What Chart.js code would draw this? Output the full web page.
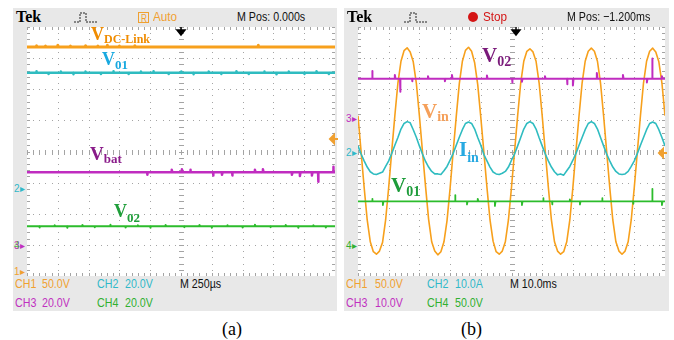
<!DOCTYPE html>
<html lang="en">
<head>
<meta charset="UTF-8">
<title>Tek captures</title>
<script src="https://cdn.jsdelivr.net/npm/chart.js"></script>
<style>
  body { margin: 0; background: #fff; font-family: "Liberation Sans", Arial, sans-serif; }
  #page { position: relative; width: 674px; height: 340px; overflow: hidden; }
  .frame { position: absolute; top: 8px; height: 303px; background: #e8e8e8; }
  canvas { position: absolute; top: 27px; background: #fff; }
  .t { position: absolute; white-space: nowrap; font-size: 13px; line-height: 13px; transform: scaleX(0.82); transform-origin: 0 0; }
  .tek { position: absolute; font: bold 16px/16px "Liberation Serif", serif; }
  .lab { position: absolute; white-space: nowrap; font-family: "Liberation Serif", serif; font-weight: bold; line-height: 1; }
  .lab sub { font-size: 13px; vertical-align: baseline; position: relative; top: 4px; }
  .mk { position: absolute; font: 10px/10px "Liberation Sans", Arial, sans-serif; }
  .cap { position: absolute; font: 18px/18px "Liberation Serif", serif; }
  svg { position: absolute; overflow: visible; }
</style>
</head>
<body>
<div id="page">
  <div class="frame" style="left:13px;width:324px"></div>
  <div class="frame" style="left:344px;width:325px"></div>
  <canvas id="scopeA" width="308" height="249" style="left:27px"></canvas>
  <canvas id="scopeB" width="307" height="249" style="left:358px"></canvas>

  <!-- header (a) -->
  <div class="tek" style="left:16px;top:9px">Tek</div>
  <svg style="left:0;top:0" width="1" height="1"><polyline points="74,22 80,22 80,13 86,13 86,22 97,22" fill="none" stroke="#222" stroke-width="1" stroke-dasharray="2 1"/></svg>
  <svg style="left:0;top:0" width="1" height="1"><rect x="138.5" y="12.5" width="10" height="10" fill="none" stroke="#f0a030"/></svg>
  <div class="t" style="left:141px;top:12px;color:#f0a030;font-size:10px">R</div>
  <div class="t" style="left:153px;top:10px;color:#f0a030;transform:scaleX(0.9)">Auto</div>
  <div class="t" style="left:237px;top:10px;color:#111">M Pos: 0.000s</div>
  <svg style="left:0;top:0" width="1" height="1"><path d="M181 27 V33 M177 30 L181 35 L185 30 Z" stroke="#000" stroke-width="1.5" fill="#000"/></svg>

  <!-- header (b) -->
  <div class="tek" style="left:347px;top:9px">Tek</div>
  <svg style="left:0;top:0" width="1" height="1"><polyline points="404,22 410,22 410,13 416,13 416,22 427,22" fill="none" stroke="#222" stroke-width="1" stroke-dasharray="2 1"/></svg>
  <svg style="left:0;top:0" width="1" height="1"><circle cx="473" cy="17" r="5" fill="#d41414"/></svg>
  <div class="t" style="left:483px;top:10px;color:#d41414;transform:scaleX(0.9)">Stop</div>
  <div class="t" style="left:567px;top:10px;color:#111">M Pos: &minus;1.200ms</div>
  <svg style="left:0;top:0" width="1" height="1"><path d="M516 27 V33 M512 30 L516 35 L520 30 Z" stroke="#000" stroke-width="1.5" fill="#000"/></svg>

  <!-- footer (a) -->
  <div class="t" style="left:15px;top:277px;color:#f0a030">CH1</div>
  <div class="t" style="left:42px;top:277px;color:#f0a030">50.0V</div>
  <div class="t" style="left:97px;top:277px;color:#30b8c8">CH2</div>
  <div class="t" style="left:125px;top:277px;color:#30b8c8">20.0V</div>
  <div class="t" style="left:180px;top:277px;color:#111">M 250µs</div>
  <div class="t" style="left:15px;top:296px;color:#c030c0">CH3</div>
  <div class="t" style="left:42px;top:296px;color:#c030c0">20.0V</div>
  <div class="t" style="left:97px;top:296px;color:#30b030">CH4</div>
  <div class="t" style="left:125px;top:296px;color:#30b030">20.0V</div>

  <!-- footer (b) -->
  <div class="t" style="left:346px;top:277px;color:#f0a030">CH1</div>
  <div class="t" style="left:375px;top:277px;color:#f0a030">50.0V</div>
  <div class="t" style="left:427px;top:277px;color:#30b8c8">CH2</div>
  <div class="t" style="left:455px;top:277px;color:#30b8c8">10.0A</div>
  <div class="t" style="left:510px;top:277px;color:#111">M 10.0ms</div>
  <div class="t" style="left:346px;top:296px;color:#c030c0">CH3</div>
  <div class="t" style="left:375px;top:296px;color:#c030c0">10.0V</div>
  <div class="t" style="left:427px;top:296px;color:#30b030">CH4</div>
  <div class="t" style="left:455px;top:296px;color:#30b030">50.0V</div>

  <!-- channel markers -->
  <div class="mk" style="left:14px;top:267px;color:#f0a030">1&#9656;</div>
  <div class="mk" style="left:14px;top:184px;color:#30b8c8">2&#9656;</div>
  <div class="mk" style="left:14px;top:241px;color:#c030c0">3&#9656;</div>
  <div class="mk" style="left:14px;top:241px;color:#30b030;opacity:.7">4</div>
  <div class="mk" style="left:346px;top:114px;color:#c030c0">3&#9656;</div>
  <div class="mk" style="left:346px;top:148px;color:#30b8c8">2&#9656;</div>
  <div class="mk" style="left:346px;top:241px;color:#30b030">4&#9656;</div>
  <svg style="left:0;top:0" width="1" height="1"><path d="M330 139 L334 135 L334 143 Z M333 139 H338" stroke="#f0a030" stroke-width="2" fill="#f0a030"/></svg>
  <svg style="left:0;top:0" width="1" height="1"><path d="M659 153 L663 149 L663 157 Z M662 153 H667" stroke="#f0a030" stroke-width="2" fill="#f0a030"/></svg>

  <!-- trace labels (a) -->
  <div class="lab" style="left:91px;top:25px;font-size:18px;color:#f08c00">V<sub style="font-size:12px;top:3px">DC-Link</sub></div>
  <div class="lab" style="left:102px;top:50px;font-size:18px;color:#19a9e0">V<sub>01</sub></div>
  <div class="lab" style="left:90px;top:144px;font-size:19px;color:#8a1c8a">V<sub style="top:3px">bat</sub></div>
  <div class="lab" style="left:114px;top:202px;font-size:18px;color:#1f9e3a">V<sub style="top:5px">02</sub></div>

  <!-- trace labels (b) -->
  <div class="lab" style="left:482px;top:45px;font-size:21px;color:#7a1a7a">V<sub style="font-size:14px">02</sub></div>
  <div class="lab" style="left:422px;top:101px;font-size:21px;color:#f5a05a">V<sub style="font-size:14px;top:3px">in</sub></div>
  <div class="lab" style="left:459px;top:139px;font-size:21px;color:#27a9e1">I<sub style="font-size:14px;top:6px">in</sub></div>
  <div class="lab" style="left:391px;top:175px;font-size:21px;color:#1d9c3a">V<sub style="font-size:14px">01</sub></div>

  <div class="cap" style="left:222px;top:320px">(a)</div>
  <div class="cap" style="left:461px;top:320px">(b)</div>
</div>

<script>
  // ---------- panel (a): 250 us/div, values in divisions from screen centre
  const levelsA = [3.36, 2.53, -0.67, -2.4];           // VDC-Link, V01, Vbat, V02

  const vdcSpikeT = [0.3, 0.6, 1.0, 1.4, 1.9, 2.3, 2.6, 3.0, 3.5, 7.5];
  const vdcSpikeD = [0.04, 0.03, 0.05, 0.03, 0.04, 0.03, 0.05, 0.03, 0.04, 0.05];

  const v01aSpikeT = [0.3, 0.7, 1.1, 1.5, 1.9, 2.4, 2.8, 3.3, 3.7, 4.1, 4.6, 5.0, 5.4, 5.9, 6.3, 6.8, 7.2, 7.7, 8.1, 8.5, 9.0, 9.4, 9.8];
  const v01aSpikeD = [0.05, -0.04, 0.04, -0.05, 0.04, -0.04, 0.05, -0.04, 0.04, 0.05, -0.04, 0.04, -0.05, 0.04, -0.04, 0.05, -0.04, 0.04, -0.05, 0.04, -0.04, 0.05, -0.04];

  const vbatSpikeT = [3.9, 4.7, 5.03, 5.3, 6.04, 6.33, 6.66, 7.4, 7.66, 8.6, 8.86, 9.25, 9.45, 9.94];
  const vbatSpikeD = [-0.08, 0.08, 0.1, 0.08, -0.1, -0.08, -0.1, 0.08, 0.1, -0.08, -0.12, -0.1, -0.3, 0.18];

  const v02aSpikeT = [0.4, 0.9, 1.3, 1.8, 2.2, 2.7, 3.2, 3.6, 4.0, 4.5, 5.1, 5.6, 6.0, 6.5, 7.0, 7.4, 7.9, 8.4, 8.8, 9.3, 9.7];
  const v02aSpikeD = [-0.04, 0.03, -0.05, 0.04, -0.03, 0.05, -0.04, 0.03, -0.05, 0.04, -0.03, 0.04, -0.05, 0.03, -0.04, 0.05, -0.03, 0.04, -0.05, 0.03, -0.04];

  // ---------- panel (b): 10 ms/div, sampled every 0.1 div
  const stepB = 0.1;
  const vinB = [
    1.15, 0.0, -1.15, -2.2, -2.9, -3.22, -3.3, -3.2, -2.92, -2.2,
    -1.15, 0.02, 1.15, 2.2, 2.9, 3.24, 3.33, 3.2, 2.88, 2.2,
    1.15, 0.0, -1.12, -2.18, -2.9, -3.2, -3.32, -3.22, -2.9, -2.22,
    -1.18, 0.0, 1.12, 2.18, 2.9, 3.25, 3.35, 3.22, 2.85, 2.15,
    1.1, -0.02, -1.15, -2.2, -2.88, -3.22, -3.3, -3.2, -2.9, -2.2,
    -1.15, 0.0, 1.15, 2.2, 2.9, 3.22, 3.3, 3.2, 2.9, 2.2,
    1.15, 0.0, -1.15, -2.2, -2.9, -3.2, -3.3, -3.22, -2.9, -2.2,
    -1.15, 0.02, 1.15, 2.2, 2.9, 3.22, 3.32, 3.22, 2.9, 2.2,
    1.15, 0.0, -1.15, -2.2, -2.9, -3.2, -3.3, -3.2, -2.9, -2.2,
    -1.15, 0.0, 1.15, 2.2, 2.9, 3.22, 3.32, 3.2, 2.88, 2.2,
    1.15
  ];
  const iinB = [
    0.18, -0.08, -0.3, -0.5, -0.65, -0.72, -0.74, -0.7, -0.66, -0.48,
    -0.3, -0.06, 0.2, 0.45, 0.72, 0.9, 0.96, 0.92, 0.7, 0.46,
    0.18, -0.08, -0.32, -0.5, -0.64, -0.72, -0.72, -0.74, -0.62, -0.48,
    -0.28, -0.06, 0.2, 0.46, 0.7, 0.9, 0.95, 0.9, 0.72, 0.45,
    0.2, -0.1, -0.3, -0.5, -0.66, -0.72, -0.74, -0.7, -0.64, -0.5,
    -0.28, -0.08, 0.18, 0.45, 0.72, 0.9, 0.96, 0.9, 0.72, 0.44,
    0.18, -0.08, -0.3, -0.5, -0.65, -0.75, -0.72, -0.76, -0.62, -0.48,
    -0.28, -0.06, 0.2, 0.45, 0.7, 0.9, 0.96, 0.9, 0.72, 0.45,
    0.18, -0.08, -0.3, -0.5, -0.64, -0.72, -0.74, -0.72, -0.64, -0.48,
    -0.3, -0.06, 0.2, 0.45, 0.7, 0.9, 0.95, 0.9, 0.7, 0.45,
    0.18
  ];

  const v02LevelB = 2.34;
  const v02bSpikeT = [0.46, 1.2, 1.37, 1.76, 2.28, 2.83, 3.06, 4.2, 5.02, 5.34, 6.09, 6.81, 7.0, 7.78, 8.63, 9.41, 9.58, 9.9];
  const v02bSpikeD = [0.25, 0.12, -0.42, -0.08, 0.08, -0.08, 0.12, 0.1, -0.12, -0.1, 0.08, -0.18, -0.22, 0.18, 0.12, -0.12, 0.65, 0.08];

  const v01LevelB = -1.6;
  const v01bSpikeT = [0.46, 0.81, 3.16, 3.55, 3.9, 4.46, 5.34, 6.03, 6.32, 6.9, 7.23, 7.95, 8.96, 9.58, 9.9];
  const v01bSpikeD = [0.08, -0.12, 0.2, -0.1, 0.08, -0.15, -0.12, 0.1, -0.1, 0.06, -0.1, 0.1, -0.08, 0.4, -0.12];

  const colors = { ch1: '#f7a01c', ch2: '#2fbcc0', ch3: '#c02cc0', ch4: '#2cbc2c' };

  function flatTrace(level, spikeT, spikeD) {
    const pts = [{ x: 0, y: level }];
    spikeT.forEach((t, i) => {
      pts.push({ x: t, y: level }, { x: t, y: level + spikeD[i] }, { x: t + 0.02, y: level });
    });
    pts.push({ x: 10, y: level });
    return pts;
  }

  function sampled(values, step) {
    return values.map((v, i) => ({ x: i * step, y: v }));
  }

  // Tek style graticule, drawn through the chart scales
  const graticule = {
    id: 'graticule',
    beforeDatasetsDraw(chart) {
      const { ctx, chartArea: a, scales: { x, y } } = chart;
      const dot = (px, py, w, h) => ctx.fillRect(Math.round(px), Math.round(py), w, h);
      ctx.save();
      ctx.fillStyle = '#a4a4a4';
      for (let d = 1; d < 10; d++) {
        const px = x.getPixelForValue(d);
        for (let m = 0; m <= 40; m++) dot(px, y.getPixelForValue(-4 + m / 5), 1, 1);
      }
      for (let d = -3; d <= 3; d++) {
        const py = y.getPixelForValue(d);
        for (let m = 0; m <= 50; m++) dot(x.getPixelForValue(m / 5), py, 1, 1);
      }
      const cx = x.getPixelForValue(5), cy = y.getPixelForValue(0);
      for (let m = 0; m <= 40; m++) {
        const py = y.getPixelForValue(-4 + m / 5);
        dot(cx - 2, py, 5, 1);
        dot(a.left, py, 3, 1);
        dot(a.right - 3, py, 3, 1);
      }
      for (let m = 0; m <= 50; m++) {
        const px = x.getPixelForValue(m / 5);
        dot(px, cy - 2, 1, 5);
        dot(px, a.top, 1, 3);
        dot(px, a.bottom - 3, 1, 3);
      }
      ctx.restore();
    }
  };

  function scope(id, datasets) {
    return new Chart(document.getElementById(id), {
      type: 'line',
      data: { datasets },
      options: {
        responsive: false,
        animation: false,
        events: [],
        layout: { padding: 0 },
        plugins: { legend: { display: false }, tooltip: { enabled: false } },
        elements: { point: { radius: 0 }, line: { borderJoinStyle: 'round', tension: 0 } },
        scales: {
          x: { type: 'linear', min: 0, max: 10, display: false },
          y: { type: 'linear', min: -4, max: 4, display: false }
        }
      },
      plugins: [graticule]
    });
  }

  scope('scopeA', [
    { data: flatTrace(levelsA[0], vdcSpikeT, vdcSpikeD), borderColor: colors.ch1, borderWidth: 3 },
    { data: flatTrace(levelsA[1], v01aSpikeT, v01aSpikeD), borderColor: colors.ch2, borderWidth: 2.5 },
    { data: flatTrace(levelsA[2], vbatSpikeT, vbatSpikeD), borderColor: colors.ch3, borderWidth: 2.5 },
    { data: flatTrace(levelsA[3], v02aSpikeT, v02aSpikeD), borderColor: colors.ch4, borderWidth: 2 }
  ]);

  scope('scopeB', [
    { data: flatTrace(v02LevelB, v02bSpikeT, v02bSpikeD), borderColor: colors.ch3, borderWidth: 2 },
    { data: flatTrace(v01LevelB, v01bSpikeT, v01bSpikeD), borderColor: colors.ch4, borderWidth: 1.8 },
    { data: sampled(iinB, stepB), borderColor: colors.ch2, borderWidth: 1.6 },
    { data: sampled(vinB, stepB), borderColor: colors.ch1, borderWidth: 1.6 }
  ]);
</script>
</body>
</html>
